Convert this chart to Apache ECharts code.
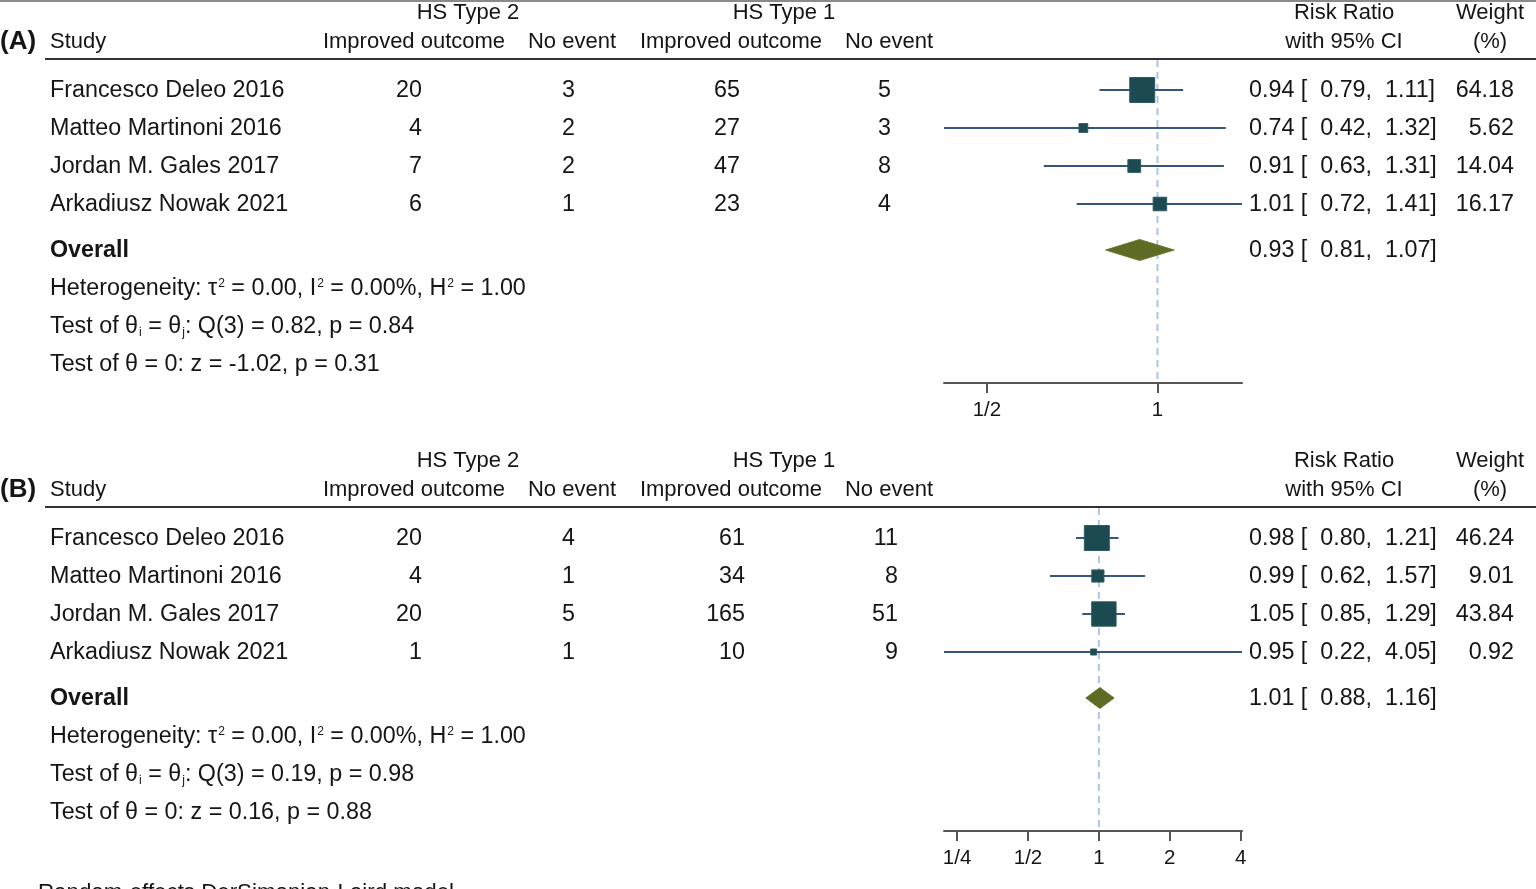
<!DOCTYPE html>
<html><head><meta charset="utf-8">
<script src="https://cdn.jsdelivr.net/npm/echarts@6/dist/echarts.min.js"></script>
<style>html,body{margin:0;padding:0;background:#fff}#c{width:1536px;height:889px}</style>
</head><body><div id="c"></div>
<script>
// ---------- data ----------
const studies = ['Francesco Deleo 2016', 'Matteo Martinoni 2016', 'Jordan M. Gales 2017', 'Arkadiusz Nowak 2021'];
const panelLabels = ['(A)', '(B)'];
const groupHeaders = ['HS Type 2', 'HS Type 1'];
const colHeaders = ['Improved outcome', 'No event', 'Improved outcome', 'No event'];
const noEffect = 1;

// Panel A
const aType2Improved = [20, 4, 7, 6];
const aType2NoEvent = [3, 2, 2, 1];
const aType1Improved = [65, 27, 47, 23];
const aType1NoEvent = [5, 3, 8, 4];
const aRR = [0.94, 0.74, 0.91, 1.01];
const aLo = [0.79, 0.42, 0.63, 0.72];
const aHi = [1.11, 1.32, 1.31, 1.41];
const aWeight = [64.18, 5.62, 14.04, 16.17];
const aOverall = [0.93, 0.81, 1.07];
const aHet = [0.00, 0.00, 1.00];      // tau2, I2 (%), H2
const aQtest = [3, 0.82, 0.84];       // df, Q, p
const aZtest = [-1.02, 0.31];         // z, p
const aTicks = [0.5, 1];
const aTickLabels = ['1/2', '1'];

// Panel B
const bType2Improved = [20, 4, 20, 1];
const bType2NoEvent = [4, 1, 5, 1];
const bType1Improved = [61, 34, 165, 10];
const bType1NoEvent = [11, 8, 51, 9];
const bRR = [0.98, 0.99, 1.05, 0.95];
const bLo = [0.80, 0.62, 0.85, 0.22];
const bHi = [1.21, 1.57, 1.29, 4.05];
const bWeight = [46.24, 9.01, 43.84, 0.92];
const bOverall = [1.01, 0.88, 1.16];
const bHet = [0.00, 0.00, 1.00];
const bQtest = [3, 0.19, 0.98];
const bZtest = [0.16, 0.88];
const bTicks = [0.25, 0.5, 1, 2, 4];
const bTickLabels = ['1/4', '1/2', '1', '2', '4'];

const footnote = 'Random-effects DerSimonian-Laird model';

// ---------- layout ----------
const FONT = 'Liberation Sans';
const FS = 22;      // column headers
const RFS = 23.3;   // row text
const TXT = '#151515';
const ROW = 38;
const gridLeft = 944, gridWidth = 298, gridHeight = 323;
const yMin = 1 - 30 / ROW;
const yMax = yMin + gridHeight / ROW;
const overallRow = studies.length + 1 + 8 / ROW;

const panels = [
  { off: 0, label: panelLabels[0], t2i: aType2Improved, t2n: aType2NoEvent, t1i: aType1Improved, t1n: aType1NoEvent,
    rr: aRR, lo: aLo, hi: aHi, w: aWeight, ov: aOverall, het: aHet, q: aQtest, z: aZtest, ticks: aTicks, tickLabels: aTickLabels,
    numRight: [422, 575, 740, 891] },
  { off: 448, label: panelLabels[1], t2i: bType2Improved, t2n: bType2NoEvent, t1i: bType1Improved, t1n: bType1NoEvent,
    rr: bRR, lo: bLo, hi: bHi, w: bWeight, ov: bOverall, het: bHet, q: bQtest, z: bZtest, ticks: bTicks, tickLabels: bTickLabels,
    numRight: [422, 575, 745, 898] }
];

const graphics = [];
function T(x, y, text, align, size, extra) {
  const st = Object.assign({ text: text, fontSize: size || FS, fontFamily: FONT, fill: TXT,
    align: align || 'left', textAlign: align || 'left', verticalAlign: 'middle', textVerticalAlign: 'middle' }, extra || {});
  graphics.push({ type: 'text', x: x, y: y, silent: true, style: st });
}
function L(x1, y1, x2, y2, color, w) {
  graphics.push({ type: 'line', silent: true, shape: { x1, y1, x2, y2 }, style: { stroke: color, lineWidth: w } });
}
const rowY = (off, v) => off + 61 + (v - yMin) * ROW;
const f2 = v => v.toFixed(2);
const ciText = (r, l, h) => f2(r) + ' [  ' + f2(l) + ',  ' + f2(h) + ']';
const rich = {
  sup: { fontSize: 12, fontFamily: FONT, fill: TXT, verticalAlign: 'top', padding: [0, 0, 0, 1] },
  sub: { fontSize: 12, fontFamily: FONT, fill: TXT, verticalAlign: 'bottom', padding: [0, 0, 0, 1] }
};

L(0, 1, 1536, 1, '#8a8a8a', 2);

const grids = [], xAxes = [], yAxes = [], series = [];
panels.forEach((p, k) => {
  const o = p.off;
  // headers
  T(468, o + 13, groupHeaders[0], 'center');
  T(784, o + 13, groupHeaders[1], 'center');
  T(1344, o + 13, 'Risk Ratio', 'center');
  T(1490, o + 13, 'Weight', 'center');
  T(0, o + 42, p.label, 'left', 26, { fontWeight: 'bold' });
  T(50, o + 42, 'Study', 'left');
  T(414, o + 42, colHeaders[0], 'center');
  T(572, o + 42, colHeaders[1], 'center');
  T(731, o + 42, colHeaders[2], 'center');
  T(889, o + 42, colHeaders[3], 'center');
  T(1344, o + 42, 'with 95% CI', 'center');
  T(1490, o + 42, '(%)', 'center');
  L(45, o + 59, 1536, o + 59, '#333', 2);
  // study rows
  studies.forEach((s, i) => {
    const y = rowY(o, i + 1);
    T(50, y, s, 'left', RFS);
    T(p.numRight[0], y, String(p.t2i[i]), 'right', RFS);
    T(p.numRight[1], y, String(p.t2n[i]), 'right', RFS);
    T(p.numRight[2], y, String(p.t1i[i]), 'right', RFS);
    T(p.numRight[3], y, String(p.t1n[i]), 'right', RFS);
    T(1249, y, ciText(p.rr[i], p.lo[i], p.hi[i]), 'left', RFS);
    T(1514, y, f2(p.w[i]), 'right', RFS);
  });
  const yo = rowY(o, overallRow);
  T(50, yo, 'Overall', 'left', RFS, { fontWeight: 'bold' });
  T(1249, yo, ciText(p.ov[0], p.ov[1], p.ov[2]), 'left', RFS);
  T(50, yo + 38, 'Heterogeneity: \u03c4{sup|2} = ' + f2(p.het[0]) + ', I{sup|2} = ' + f2(p.het[1]) + '%, H{sup|2} = ' + f2(p.het[2]), 'left', RFS, { rich });
  T(50, yo + 76, 'Test of \u03b8{sub|i} = \u03b8{sub|j}: Q(' + p.q[0] + ') = ' + f2(p.q[1]) + ', p = ' + f2(p.q[2]), 'left', RFS, { rich });
  T(50, yo + 114, 'Test of \u03b8 = 0: z = ' + f2(p.z[0]) + ', p = ' + f2(p.z[1]), 'left', RFS);

  // forest plot
  grids.push({ left: gridLeft, width: gridWidth, top: o + 60, height: gridHeight });
  const xmin = Math.log2(Math.min(...p.lo)), xmax = Math.log2(Math.max(...p.hi));
  const tv = p.ticks.map(t => Math.log2(t));
  xAxes.push({
    type: 'value', gridIndex: k, min: xmin, max: xmax,
    axisLine: { show: true, onZero: false, lineStyle: { color: '#555', width: 2 } },
    axisTick: { show: true, length: 10, customValues: tv, lineStyle: { color: '#555', width: 2 } },
    axisLabel: { show: true, customValues: tv, margin: 17, fontSize: 20.5, fontFamily: FONT, color: TXT,
      formatter: v => { let best = 0; tv.forEach((t, j) => { if (Math.abs(t - v) < Math.abs(tv[best] - v)) best = j; }); return p.tickLabels[best]; } },
    splitLine: { show: false }
  });
  yAxes.push({ type: 'value', gridIndex: k, inverse: true, min: yMin, max: yMax, show: false });

  const wmax = Math.max(...p.w);
  series.push({
    type: 'custom', xAxisIndex: k, yAxisIndex: k, z: 1, silent: true,
    data: [[Math.log2(noEffect)]],
    renderItem: (params, api) => {
      const a = api.coord([api.value(0), yMin]), b = api.coord([api.value(0), yMax]);
      return { type: 'line', shape: { x1: a[0], y1: a[1], x2: b[0], y2: b[1] },
        style: { stroke: '#adc5e8', lineWidth: 2, lineDash: [7, 5] } };
    }
  });
  series.push({
    type: 'custom', xAxisIndex: k, yAxisIndex: k, z: 5, silent: true,
    data: [[Math.log2(p.ov[0]), overallRow, Math.log2(p.ov[1]), Math.log2(p.ov[2])]],
    renderItem: (params, api) => {
      const c = api.coord([api.value(0), api.value(1)]);
      const l = api.coord([api.value(2), api.value(1)]);
      const h = api.coord([api.value(3), api.value(1)]);
      return { type: 'polygon', shape: { points: [[l[0], c[1]], [c[0], c[1] - 10.5], [h[0], c[1]], [c[0], c[1] + 10.5]] },
        style: { fill: '#5e6b25', stroke: '#6b7630', lineWidth: 1 } };
    }
  });
  series.push({
    type: 'custom', xAxisIndex: k, yAxisIndex: k, z: 6, silent: true,
    data: p.rr.map((r, i) => [Math.log2(r), i + 1, Math.log2(p.lo[i]), Math.log2(p.hi[i]), p.w[i]]),
    renderItem: (params, api) => {
      const y = api.value(1);
      const c = api.coord([api.value(0), y]);
      const l = api.coord([api.value(2), y]);
      const h = api.coord([api.value(3), y]);
      const s = Math.max(6, 23 * Math.sqrt(api.value(4) / wmax) + 2);
      return { type: 'group', children: [
        { type: 'line', shape: { x1: l[0], y1: l[1], x2: h[0], y2: h[1] }, style: { stroke: '#36557c', lineWidth: 2 } },
        { type: 'rect', shape: { x: c[0] - s / 2, y: c[1] - s / 2, width: s, height: s }, style: { fill: '#1b4a50', stroke: '#2d5c62', lineWidth: 1 } }
      ] };
    }
  });
});

T(38, 893, footnote, 'left', 22.3);

const chart = echarts.init(document.getElementById('c'), null, { renderer: 'canvas' });
chart.setOption({
  backgroundColor: '#fff',
  animation: false,
  grid: grids, xAxis: xAxes, yAxis: yAxes, series: series,
  graphic: { elements: graphics }
});
</script></body></html>
